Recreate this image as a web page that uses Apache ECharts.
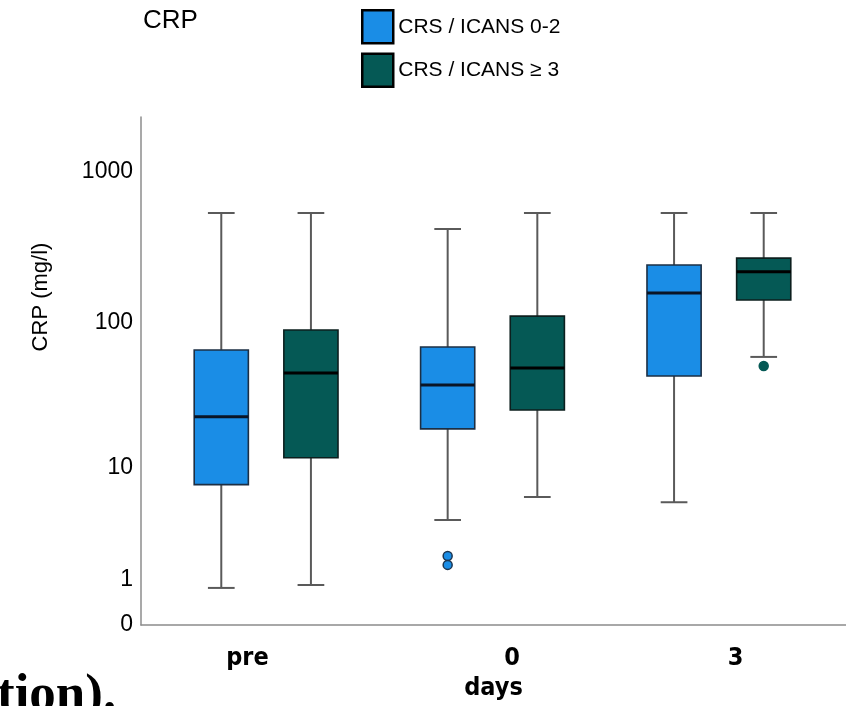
<!DOCTYPE html>
<html>
<head>
<meta charset="utf-8">
<script src="https://cdn.jsdelivr.net/npm/echarts@6/dist/echarts.min.js"></script>
<style>
html,body{margin:0;padding:0;background:#fff;}
#chart{width:846px;height:706px;}
</style>
</head>
<body>
<div id="chart"></div>
<script>
// ---- data (CRP in mg/l) ----
const categories = ['pre', '0', '3'];
const seriesNames = ['CRS / ICANS 0-2', 'CRS / ICANS \u2265 3'];
// [min, Q1, median, Q3, max]
const lowGrade = [
  [0.76, 7.5, 22.9, 65.3, 534],
  [3.96, 18.9, 37.9, 68.3, 418],
  [5.5, 43.6, 157, 241, 534]
];
const highGrade = [
  [0.84, 11.8, 45.7, 88.9, 534],
  [6.04, 25.5, 49.4, 110, 534],
  [58.6, 141, 217, 268, 534]
];
// [category index, value]
const lowOutliers = [[1, 1.86], [1, 1.5]];
const highOutliers = [[2, 50.9]];
const yTickLabels = [0, 1, 10, 100, 1000];

// log10(x + 1) scale
const tf = v => Math.log10(v + 1);
const inv = t => Math.round(Math.pow(10, t) - 1);

const OFFSET = 0.198;     // box centre offset from category centre (axis units)
const BOX_HALF = 0.1196;  // half box width (axis units)
const CAP_HALF = 0.059;   // half whisker cap width

function boxRows(arr) { return arr.map((r, i) => [i].concat(r.map(tf))); }
function outRows(arr) { return arr.map(r => [r[0], tf(r[1])]); }

function boxRenderer(off, fill, boxStroke, medStroke) {
  return function (params, api) {
    const cx = api.value(0) + off;
    const vmin = api.value(1), q1 = api.value(2), med = api.value(3), q3 = api.value(4), vmax = api.value(5);
    const c = api.coord([cx, med]);
    const x0 = api.coord([cx - BOX_HALF, med])[0];
    const x1 = api.coord([cx + BOX_HALF, med])[0];
    const cx0 = api.coord([cx - CAP_HALF, med])[0];
    const cx1 = api.coord([cx + CAP_HALF, med])[0];
    const yMin = api.coord([cx, vmin])[1];
    const yQ1 = api.coord([cx, q1])[1];
    const yQ3 = api.coord([cx, q3])[1];
    const yMax = api.coord([cx, vmax])[1];
    const wStyle = { stroke: '#5a5a5a', lineWidth: 2 };
    return {
      type: 'group',
      children: [
        { type: 'line', shape: { x1: c[0], y1: yMax, x2: c[0], y2: yQ3 }, style: wStyle },
        { type: 'line', shape: { x1: c[0], y1: yQ1, x2: c[0], y2: yMin }, style: wStyle },
        { type: 'line', shape: { x1: cx0, y1: yMax, x2: cx1, y2: yMax }, style: wStyle },
        { type: 'line', shape: { x1: cx0, y1: yMin, x2: cx1, y2: yMin }, style: wStyle },
        { type: 'rect', shape: { x: x0, y: yQ3, width: x1 - x0, height: yQ1 - yQ3 },
          style: { fill: fill, stroke: boxStroke, lineWidth: 1.6 } },
        { type: 'line', shape: { x1: x0, y1: c[1], x2: x1, y2: c[1] },
          style: { stroke: medStroke, lineWidth: 3 } }
      ]
    };
  };
}

function outlierRenderer(off, fill, stroke) {
  return function (params, api) {
    const p = api.coord([api.value(0) + off, api.value(1)]);
    return { type: 'circle', shape: { cx: p[0], cy: p[1], r: 4.5 },
      style: { fill: fill, stroke: stroke, lineWidth: 1.5 } };
  };
}

const BLUE = '#1a8de6', TEAL = '#055955';
const FONT = 'Liberation Sans, Arial, sans-serif';
const NARROW = '"DejaVu Sans Condensed", "Liberation Sans", sans-serif';

const chart = echarts.init(document.getElementById('chart'), null, { renderer: 'canvas' });
chart.setOption({
  animation: false,
  backgroundColor: '#fff',
  title: {
    text: 'CRP', left: 138, top: 3,
    textStyle: { fontFamily: FONT, fontSize: 26, fontWeight: 'normal', color: '#000' }
  },
  legend: {
    orient: 'vertical', left: 361, top: 9, padding: 0,
    itemWidth: 31, itemHeight: 33, itemGap: 8,
    icon: 'rect',
    data: seriesNames,
    itemStyle: { borderColor: '#000', borderWidth: 2.5 },
    textStyle: { fontFamily: FONT, fontSize: 21, color: '#000' }
  },
  graphic: [{
    type: 'text', left: -3, top: 670,
    style: { text: 'tion).', fill: '#000', font: 'bold 53px "Liberation Serif", "Times New Roman", serif' }
  }],
  grid: { left: 141, right: 0, top: 117, bottom: 81, outerBoundsMode: 'none', containLabel: false },
  xAxis: [{
    type: 'category', data: categories, boundaryGap: true,
    axisLine: { show: true, lineStyle: { color: '#8c8c8c', width: 1.5 } },
    axisTick: { show: false },
    splitLine: { show: false },
    axisLabel: {
      margin: 21,
      color: '#000',
      fontFamily: NARROW, fontSize: 25, fontWeight: 'bold',
      formatter: (v, i) => '{l' + i + '|' + v + '}',
      rich: {
        l0: { padding: [0, 22, 0, 0] },
        l1: { padding: [0, 0, 0, 37] },
        l2: { padding: [0, 0, 0, 14] }
      }
    },
    name: 'days', nameLocation: 'middle', nameGap: 48,
    nameTextStyle: { fontFamily: NARROW, fontSize: 25, fontWeight: 'bold', color: '#000' }
  }, {
    type: 'value', min: -0.5526, max: 2.5615, show: false
  }],
  yAxis: [{
    type: 'value', min: 0, max: 3.364,
    axisLine: { show: true, onZero: false, lineStyle: { color: '#8c8c8c', width: 1.5 } },
    axisTick: { show: false },
    splitLine: { show: false },
    axisLabel: {
      customValues: yTickLabels.map(tf),
      formatter: v => String(inv(v)),
      margin: 8, color: '#000',
      fontFamily: FONT, fontSize: 23
    },
    name: 'CRP (mg/l)', nameLocation: 'middle', nameGap: 89,
    nameTextStyle: { fontFamily: FONT, fontSize: 22, color: '#000',
      padding: [0, 0, 0, 148] }
  }],
  series: [
    {
      name: seriesNames[0], type: 'custom', xAxisIndex: 1, yAxisIndex: 0,
      itemStyle: { color: BLUE },
      encode: { x: 0, y: [1, 2, 3, 4, 5] },
      renderItem: boxRenderer(-OFFSET, BLUE, '#1c2f44', '#0a1526'),
      data: boxRows(lowGrade)
    },
    {
      name: seriesNames[1], type: 'custom', xAxisIndex: 1, yAxisIndex: 0,
      itemStyle: { color: TEAL },
      encode: { x: 0, y: [1, 2, 3, 4, 5] },
      renderItem: boxRenderer(OFFSET, TEAL, '#0c1f1e', '#000'),
      data: boxRows(highGrade)
    },
    {
      name: seriesNames[0], type: 'custom', xAxisIndex: 1, yAxisIndex: 0,
      itemStyle: { color: BLUE },
      encode: { x: 0, y: 1 },
      renderItem: outlierRenderer(-OFFSET, BLUE, '#1c3550'),
      data: outRows(lowOutliers)
    },
    {
      name: seriesNames[1], type: 'custom', xAxisIndex: 1, yAxisIndex: 0,
      itemStyle: { color: TEAL },
      encode: { x: 0, y: 1 },
      renderItem: outlierRenderer(OFFSET, TEAL, TEAL),
      data: outRows(highOutliers)
    }
  ]
});
</script>
</body>
</html>
